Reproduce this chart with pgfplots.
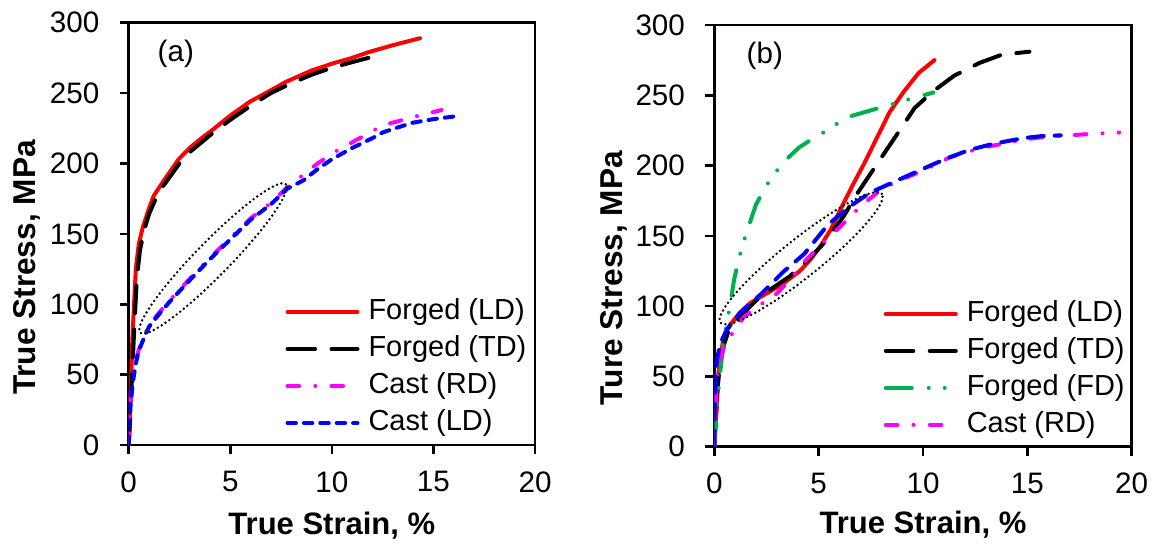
\documentclass[border=0pt]{standalone}
\usepackage{fontspec}
\setmainfont{Liberation Sans}
\usepackage{pgfplots}
\pgfplotsset{compat=1.18}
\definecolor{fdgreen}{RGB}{0,176,80}
\definecolor{mymag}{RGB}{255,0,255}
\definecolor{myblue}{RGB}{0,0,255}
\definecolor{myred}{RGB}{255,0,0}
\tikzset{ell/.style={black, line width=1.35pt, dash pattern=on 0pt off 2.3pt, line cap=round}}
\pgfplotsset{
  myaxis/.style={
    scale only axis,
    xmin=0, xmax=20, ymin=0, ymax=300,
    xtick={0,5,10,15,20}, ytick={0,50,...,300},
    tick align=outside, xtick pos=bottom, ytick pos=left,
    major tick length=4.5pt,
    axis line style={line width=1.3pt},
    every tick/.style={line width=1.3pt, black},
    /pgf/number format/assume math mode=true,
    ticklabel style={font=\fontsize{14.8}{17}\selectfont, inner sep=0pt},
    yticklabel style={xshift=-10pt},
    xticklabel style={yshift=-8.5pt},
    legend style={draw=none, fill=none, font=\fontsize{14.5}{17}\selectfont,
      inner sep=0pt, row sep=2pt, column sep=3pt,
      nodes={inner sep=1.5pt, text height=10.5pt, text depth=3pt}},
    legend cell align=left,
    legend image code/.code={\draw[#1] plot coordinates {(0pt,0pt) (17.5pt,0pt) (35pt,0pt)};},
    every axis plot/.append style={line width=2pt, line cap=round, line join=round, mark=none},
  },
  fld/.style={myred},
  ftd/.style={black, dash pattern=on 13.8pt off 8.2pt},
  crd/.style={mymag, dash pattern=on 5.8pt off 8.1pt on 0pt off 8.1pt},
  cld/.style={myblue, dash pattern=on 4.2pt off 4pt},
  cldb/.style={myblue, dash pattern=on 8pt off 5.5pt},
  ffd/.style={fdgreen, dash pattern=on 13pt off 8.5pt on 0pt off 8pt on 0pt off 8.5pt},
}
\begin{document}
\begin{tikzpicture}
\path (0,0) rectangle (578pt,274pt);
% ---------------- (a)
\begin{axis}[myaxis,
  at={(64.35pt,51.5pt)}, anchor=south west,
  width=203.15pt, height=211.15pt,
  xlabel={\bfseries True Strain, \%},
  ylabel={\bfseries True Stress, MPa},
  xlabel style={font=\fontsize{15.5}{18}\selectfont, at={(rel axis cs:0.5,-0.19)}, anchor=center},
  ylabel style={font=\fontsize{15.8}{18}\selectfont, at={(rel axis cs:-0.25,0.42)}, anchor=center, rotate=0},
  legend style={at={(rel axis cs:0.385,0.355)}, anchor=north west},
]
\addplot[fld] coordinates {(0,0) (0.05,18) (0.09,35) (0.14,55) (0.18,75) (0.24,93) (0.35,125) (0.5,143) (0.7,155) (1.0,168) (1.23,177) (1.6,185) (1.93,192) (2.46,203) (3,211) (3.5,217) (4.05,223) (5,234) (5.98,244) (7,252) (7.74,258) (9,266) (10.03,271) (11,275) (11.79,279) (13,284) (14.34,289)};
\addlegendentry{Forged (LD)}
\addplot[ftd] coordinates {(0,0) (0.06,15) (0.12,35) (0.2,60) (0.28,85) (0.4,118) (0.55,138) (0.75,152) (1.0,164) (1.3,174) (1.7,184) (2.0,190) (2.5,200) (3,208) (4,220) (5,231) (6,241) (7,250) (8,257) (9,263) (10,268) (11,272) (11.8,275)};
\addlegendentry{Forged (TD)}
\addplot[crd] coordinates {(0,0) (0.05,20) (0.1,32) (0.2,46) (0.35,60) (0.5,68) (0.75,77) (1,85) (1.5,94) (2,102.5) (3,118) (4,133) (5,147) (6,161) (7,172) (7.8,183) (8.6,192) (9.3,200) (10,207) (11,215) (12,223) (12.5,227) (13,229) (14,233) (15,236.5) (15.4,238)};
\addlegendentry{Cast (RD)}
\addplot[cld] coordinates {(0,0) (0.05,18) (0.1,30) (0.2,44) (0.35,58) (0.5,67) (0.75,76) (1,84) (1.5,93) (2,101.5) (3,117) (4,132) (5,146) (6,160) (7,171) (7.8,182) (8.6,188) (9.3,196) (10,203) (11,211) (12,218) (12.5,222) (13,224.5) (14,229) (15,231.5) (16.36,234)};
\addlegendentry{Cast (LD)}
\draw[ell, shift={(axis cs:4.15,132.5)}, rotate=45.6] (0,0) ellipse [x radius=52pt, y radius=8.5pt];
\node[font=\fontsize{14.8}{17}\selectfont, anchor=center] at (rel axis cs:0.116,0.926) {(a)};
\end{axis}
% ---------------- (b)
\begin{axis}[myaxis,
  at={(357.15pt,50.65pt)}, anchor=south west,
  width=208.7pt, height=210.85pt,
  xlabel={\bfseries True Strain, \%},
  ylabel={\bfseries Ture Stress, MPa},
  xlabel style={font=\fontsize{15.5}{18}\selectfont, at={(rel axis cs:0.5,-0.186)}, anchor=center},
  ylabel style={font=\fontsize{15.8}{18}\selectfont, at={(rel axis cs:-0.24,0.40)}, anchor=center, rotate=0},
  legend style={at={(rel axis cs:0.405,0.355)}, anchor=north west},
]
\addplot[fld] coordinates {(0,0) (0.05,15) (0.11,25) (0.19,50) (0.3,65) (0.43,76) (0.6,83) (0.83,88) (1.2,95) (1.7,102) (2.5,109) (3.3,116) (4.1,125) (4.6,133) (5.1,143) (5.6,155) (6.15,172) (6.7,188) (7.2,202) (7.8,220) (8.4,238) (9.1,253) (9.8,266) (10.55,275)};
\addlegendentry{Forged (LD)}
\addplot[ftd] coordinates {(0,0) (0.09,32) (0.26,57) (0.45,72) (0.65,81) (1.2,92) (2.0,104) (2.8,113) (3.6,121) (4.5,133) (5.2,144) (5.6,152) (6.2,164) (6.8,179) (7.7,199) (8.7,221) (9.6,241) (10.5,253) (11.5,264) (12.7,273) (13.8,279) (15.1,281)};
\addlegendentry{Forged (TD)}
\addplot[ffd] coordinates {(0,0) (0.1,20) (0.2,40) (0.3,55) (0.45,75) (0.6,88) (0.75,100) (0.95,119) (1.2,135) (1.47,149) (1.99,172) (2.5,186) (3.03,197) (3.5,205) (4.07,213) (4.6,218) (5.28,224) (6.0,231) (6.5,235) (7.2,238) (7.9,241) (8.6,244) (9.3,247) (10.5,252)};
\addlegendentry{Forged (FD)}
\addplot[crd] coordinates {(0,0) (0.05,25) (0.13,50) (0.27,62) (0.5,72) (0.75,78) (1.0,84) (1.4,92) (2.2,101) (3.0,109) (3.7,120) (4.4,133) (5.2,145) (6.0,156) (7.0,171) (8.0,183) (8.8,189) (9.6,194) (10.5,200) (11.3,206) (12.2,210) (13.1,213.5) (14.0,216) (14.8,218.5) (15.6,220) (16.5,221) (18,222.5) (19.4,223.5)};
\addlegendentry{Cast (RD)}
\addplot[cldb, forget plot] coordinates {(0,0) (0.03,34) (0.11,61) (0.3,74) (0.59,83) (1.23,95) (2.27,109) (3.31,124.5) (4.3,137) (5.45,158) (6.5,171) (7.5,181) (8.7,189) (9.6,195) (10.5,201) (11.3,206) (12.2,211) (13.1,214.5) (13.9,217) (14.8,219.5) (15.7,221) (16.6,221.5)};
\draw[ell, shift={(axis cs:4.16,134.1)}, rotate=38.6] (0,0) ellipse [x radius=51.6pt, y radius=9.5pt];
\node[font=\fontsize{14.8}{17}\selectfont, anchor=center] at (rel axis cs:0.121,0.926) {(b)};
\end{axis}
\end{tikzpicture}
\end{document}
